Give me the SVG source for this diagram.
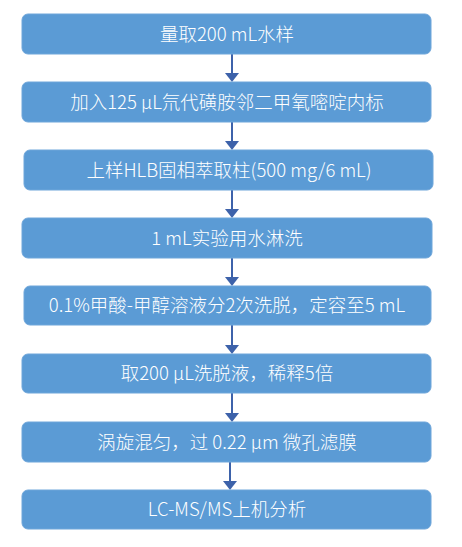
<svg xmlns="http://www.w3.org/2000/svg" width="462" height="547" viewBox="0 0 462 547">
<style>
.box{fill:#5b9bd5;stroke:#6fa6da;stroke-width:1}
.t{fill:#ffffff;font-family:"Noto Sans CJK SC","Noto Sans",sans-serif;font-size:18.5px;font-weight:300;text-anchor:middle;dominant-baseline:central}
.c{stroke:#3d62aa;stroke-width:2;fill:none}
.ah{fill:#3d62aa}
</style>
<rect width="462" height="547" fill="#ffffff"/>
<g id="connectors">
<line class="c" x1="232" y1="54" x2="232" y2="73"/><path class="ah" d="M225,73 L239,73 L232,82 Z"/>
<line class="c" x1="232" y1="122" x2="232" y2="141"/><path class="ah" d="M225,141 L239,141 L232,150 Z"/>
<line class="c" x1="232" y1="190" x2="232" y2="209"/><path class="ah" d="M225,209 L239,209 L232,218 Z"/>
<line class="c" x1="232" y1="258" x2="232" y2="277"/><path class="ah" d="M225,277 L239,277 L232,286 Z"/>
<line class="c" x1="232" y1="325" x2="232" y2="345"/><path class="ah" d="M225,345 L239,345 L232,354 Z"/>
<line class="c" x1="232" y1="393" x2="232" y2="413"/><path class="ah" d="M225,413 L239,413 L232,422 Z"/>
<line class="c" x1="230" y1="462" x2="230" y2="481"/><path class="ah" d="M223,481 L237,481 L230,490 Z"/>
</g>
<g id="n1"><rect class="box" x="22" y="14" width="409" height="40" rx="6"/><text class="t" x="227" y="33">量取200 mL水样</text></g>
<g id="n2"><rect class="box" x="22" y="82" width="409" height="40" rx="6"/><text class="t" x="227" y="101">加入125 μL氘代磺胺邻二甲氧嘧啶内标</text></g>
<g id="n3"><rect class="box" x="24" y="150" width="409" height="40" rx="6"/><text class="t" x="229" y="169">上样HLB固相萃取柱(500 mg/6 mL)</text></g>
<g id="n4"><rect class="box" x="22" y="218" width="410" height="40" rx="6"/><text class="t" x="227" y="237">1 mL实验用水淋洗</text></g>
<g id="n5"><rect class="box" x="24" y="286" width="407" height="39" rx="6"/><text class="t" x="227" y="304">0.1%甲酸-甲醇溶液分2次洗脱，定容至5 mL</text></g>
<g id="n6"><rect class="box" x="22" y="354" width="409" height="39" rx="6"/><text class="t" x="227" y="372">取200 μL洗脱液，稀释5倍</text></g>
<g id="n7"><rect class="box" x="22" y="422" width="409" height="40" rx="6"/><text class="t" x="227" y="441">涡旋混匀，过 0.22 μm 微孔滤膜</text></g>
<g id="n8"><rect class="box" x="22" y="490" width="409" height="39" rx="6"/><text class="t" x="227" y="508">LC-MS/MS上机分析</text></g>
</svg>
